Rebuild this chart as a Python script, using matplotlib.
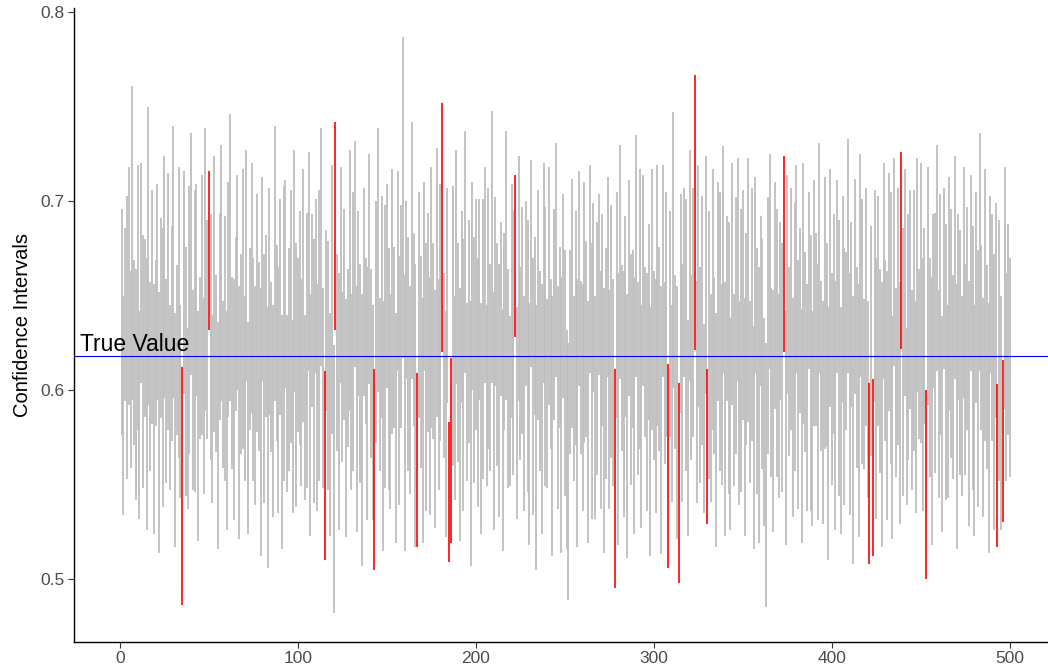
"""Coverage plot: 500 simulated confidence intervals against the true value.

Intervals that miss the true value are drawn in red, the rest in grey.
"""

import matplotlib
matplotlib.use("Agg")
import matplotlib.pyplot as plt
import numpy as np

plt.rcParams["font.family"] = ["Liberation Sans", "DejaVu Sans"]

TRUE_VALUE = 0.618

# point estimates and margins of error, in thousandths, one per sample (1..500)
estimates = [
    636, 592, 640, 628, 655, 611, 678, 620, 603, 649, 587, 662, 615, 633, 598, 671, 607, 644, 590, 625, 652, 583, 638, 612, 660,
    605, 647, 596, 630, 668, 579, 621, 641, 594, 549, 657, 610, 585, 637, 672, 600, 626, 653, 581, 617, 645, 597, 664, 632, 674,
    628, 590, 651, 614, 576, 639, 662, 603, 622, 584, 648, 670, 609, 595, 635, 657, 588, 619, 643, 601, 666, 580, 627, 654, 611,
    597, 641, 618, 583, 659, 606, 634, 575, 647, 612, 589, 667, 625, 600, 644, 578, 630, 656, 593, 616, 639, 586, 663, 608, 624,
    633, 604, 650, 591, 621, 668, 587, 642, 610, 655, 596, 629, 676, 601, 560, 637, 613, 582, 648, 553, 687, 620, 594, 661, 607,
    640, 585, 617, 658, 599, 631, 672, 590, 646, 609, 579, 652, 626, 598, 664, 614, 588, 558, 636, 669, 603, 644, 581, 623, 655,
    611, 594, 647, 628, 580, 663, 605, 639, 702, 588, 653, 619, 600, 674, 632, 592, 563, 645, 615, 584, 660, 607, 636, 597, 649,
    626, 590, 657, 603, 641, 686, 613, 582, 650, 546, 568, 634, 596, 665, 620, 587, 644, 608, 673, 599, 631, 577, 655, 616, 640,
    604, 648, 585, 627, 661, 597, 638, 612, 676, 589, 652, 619, 600, 643, 579, 631, 666, 606, 594, 647, 625, 671, 588, 659, 614,
    637, 593, 651, 618, 582, 667, 602, 634, 575, 645, 610, 590, 662, 623, 598, 655, 614, 581, 640, 669, 596, 628, 587, 650, 609,
    574, 557, 620, 646, 601, 633, 588, 659, 612, 596, 641, 627, 583, 664, 605, 649, 591, 622, 656, 600, 637, 584, 614, 660, 595,
    631, 604, 553, 645, 590, 668, 617, 598, 639, 581, 654, 611, 627, 592, 671, 606, 643, 586, 658, 620, 599, 636, 578, 648, 613,
    597, 650, 622, 584, 663, 609, 640, 560, 635, 593, 674, 615, 588, 551, 646, 604, 657, 629, 580, 666, 612, 641, 694, 599, 655,
    608, 637, 585, 661, 570, 624, 596, 648, 613, 579, 652, 631, 603, 669, 590, 643, 617, 582, 656, 600, 634, 664, 593, 621, 645,
    586, 627, 653, 599, 640, 575, 661, 610, 592, 647, 619, 583, 555, 634, 668, 604, 589, 650, 625, 597, 642, 612, 672, 580, 656,
    615, 643, 591, 628, 664, 603, 637, 581, 651, 620, 596, 658, 609, 585, 646, 632, 599, 670, 613, 588, 641, 624, 577, 654, 606,
    635, 592, 660, 617, 584, 648, 607, 626, 671, 598, 640, 579, 655, 612, 589, 666, 631, 603, 644, 595, 556, 626, 559, 650, 601,
    642, 610, 587, 663, 621, 597, 652, 633, 580, 668, 604, 639, 593, 674, 615, 657, 586, 628, 648, 600, 637, 591, 661, 619, 646,
    603, 634, 550, 655, 612, 589, 647, 625, 670, 598, 640, 582, 659, 615, 594, 651, 630, 607, 665, 586, 644, 620, 597, 657, 611,
    638, 593, 662, 617, 584, 649, 606, 673, 628, 591, 645, 612, 580, 656, 633, 599, 642, 560, 621, 588, 573, 654, 607, 632, 612,
]
margins = [
    60, 58, 46, 75, 63, 52, 83, 49, 61, 70, 55, 58, 67, 47, 72, 79, 50, 62, 66, 44, 57, 69, 53, 74, 64,
    54, 68, 49, 57, 72, 62, 45, 77, 51, 63, 59, 66, 48, 71, 64, 53, 80, 56, 61, 43, 69, 52, 75, 58, 42,
    65, 50, 73, 47, 60, 55, 68, 44, 70, 58, 62, 76, 51, 64, 46, 57, 67, 53, 74, 49, 61, 56, 48, 66, 59,
    58, 63, 50, 71, 54, 66, 48, 69, 60, 45, 56, 73, 52, 65, 57, 62, 78, 55, 47, 59, 67, 51, 64, 70, 46,
    62, 55, 67, 49, 73, 58, 64, 51, 70, 46, 60, 77, 63, 53, 50, 48, 66, 59, 71, 71, 55, 52, 68, 57, 45,
    56, 63, 47, 69, 52, 74, 60, 65, 49, 58, 72, 55, 44, 67, 61, 50, 57, 53, 64, 70, 46, 59, 66, 75, 54,
    64, 57, 70, 48, 61, 53, 66, 59, 85, 73, 47, 62, 55, 68, 51, 75, 46, 60, 56, 65, 50, 71, 58, 63, 69,
    52, 63, 71, 56, 68, 66, 49, 60, 57, 37, 49, 74, 54, 62, 58, 67, 51, 72, 64, 47, 59, 70, 55, 65, 61,
    66, 53, 61, 74, 57, 48, 69, 55, 72, 63, 50, 59, 67, 46, 64, 52, 71, 58, 45, 62, 70, 43, 56, 65, 51,
    60, 57, 49, 72, 64, 55, 68, 47, 70, 61, 53, 66, 58, 74, 50, 63, 45, 69, 56, 62, 59, 48, 73, 54, 65,
    58, 68, 54, 66, 49, 62, 71, 57, 46, 60, 69, 52, 64, 55, 73, 50, 59, 67, 48, 63, 56, 70, 61, 53, 58,
    67, 55, 58, 60, 72, 62, 49, 65, 53, 70, 57, 61, 47, 68, 64, 51, 74, 59, 56, 45, 63, 52, 66, 69, 50,
    62, 69, 54, 71, 56, 48, 65, 54, 60, 52, 73, 46, 67, 53, 58, 63, 50, 72, 57, 61, 49, 66, 73, 59, 64,
    57, 66, 50, 63, 41, 71, 55, 69, 47, 62, 58, 74, 53, 60, 67, 49, 72, 56, 64, 51, 68, 59, 54, 75, 61,
    63, 56, 70, 48, 67, 59, 52, 65, 73, 45, 61, 55, 70, 68, 57, 50, 64, 60, 71, 54, 47, 66, 52, 62, 58,
    50, 64, 58, 71, 55, 66, 49, 62, 69, 53, 60, 47, 73, 57, 65, 51, 68, 61, 45, 59, 72, 54, 67, 63, 56,
    58, 66, 51, 73, 60, 55, 68, 47, 62, 64, 49, 71, 57, 53, 67, 59, 70, 45, 63, 52, 48, 61, 47, 56, 69,
    61, 54, 70, 57, 48, 66, 63, 72, 59, 55, 50, 68, 64, 52, 71, 60, 47, 65, 58, 53, 69, 56, 62, 45, 74,
    67, 52, 50, 63, 58, 71, 46, 69, 60, 55, 64, 57, 48, 73, 51, 62, 66, 54, 59, 70, 49, 65, 53, 61, 56,
    59, 65, 52, 70, 61, 56, 68, 63, 49, 58, 72, 54, 66, 47, 60, 73, 57, 43, 69, 62, 43, 64, 55, 56, 58,
]

x_ticks = [0, 100, 200, 300, 400, 500]
y_ticks = [0.5, 0.6, 0.7, 0.8]


def main():
    est = np.asarray(estimates, dtype=float) / 1000.0
    moe = np.asarray(margins, dtype=float) / 1000.0
    lower = est - moe
    upper = est + moe
    sample = np.arange(1, est.size + 1)
    miss = (upper < TRUE_VALUE) | (lower > TRUE_VALUE)

    fig = plt.figure(figsize=(10.48, 6.72), dpi=100)
    ax = fig.add_axes([0.0706, 0.045, 0.9294, 0.943])

    ax.vlines(sample[~miss], lower[~miss], upper[~miss], colors="#BEBEBE", linewidth=1.3)
    ax.vlines(sample[miss], lower[miss], upper[miss], colors="#FF0000", linewidth=1.2)
    ax.axhline(TRUE_VALUE, color="#0000FF", linewidth=0.8)
    ax.text(-22.5, TRUE_VALUE + 0.0025, "True Value", fontsize=16.5, color="black",
            ha="left", va="baseline")

    # the source panel runs slightly past the right edge of the picture
    ax.set_xlim(-25.8, 521.4)
    ypad = 0.05 * (upper.max() - lower.min())
    ax.set_ylim(lower.min() - ypad, upper.max() + ypad)

    ax.set_xticks(x_ticks)
    ax.set_yticks(y_ticks)
    ax.set_yticklabels([f"{v:.1f}" for v in y_ticks])
    ax.set_ylabel("Confidence Intervals", fontsize=14.5, color="black", labelpad=6)

    for side in ("top", "right"):
        ax.spines[side].set_visible(False)
    for side in ("left", "bottom"):
        ax.spines[side].set_linewidth(1.0)
        ax.spines[side].set_color("black")
    ax.tick_params(axis="both", direction="out", length=4, width=0.8, color="#333333",
                   labelsize=12.5, labelcolor="#4D4D4D", pad=3)

    fig.savefig("out.png", dpi=100)
    plt.close(fig)


if __name__ == "__main__":
    main()
